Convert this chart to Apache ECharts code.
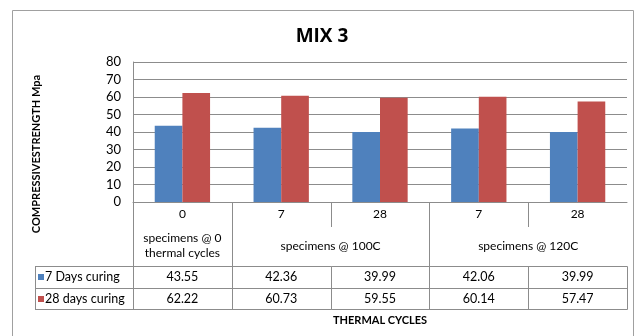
<!DOCTYPE html>
<html>
<head>
<meta charset="utf-8">
<script src="https://cdn.jsdelivr.net/npm/echarts@6/dist/echarts.min.js"></script>
<style>
html,body{margin:0;padding:0;background:#fff;}
#chart{width:644px;height:336px;}
</style>
</head>
<body>
<div id="chart"></div>
<script>
var titleText = 'MIX 3';
var yAxisTitle = 'COMPRESSIVESTRENGTH Mpa';
var xAxisTitle = 'THERMAL CYCLES';
var categories = ['0', '7', '28', '7', '28'];
var groupLabels = ['specimens @ 0\nthermal cycles', 'specimens @ 100C', 'specimens @ 120C'];
var groupSpans = [1, 2, 2];
var seriesNames = ['7 Days curing', '28 days curing'];
var days7 = [43.55, 42.36, 39.99, 42.06, 39.99];
var days28 = [62.22, 60.73, 59.55, 60.14, 57.47];
var yTicks = [0, 10, 20, 30, 40, 50, 60, 70, 80];

var colors = ['#4F81BD', '#C0504D'];
var lineColor = '#8c8c8c';
var font = 'Lato, "Open Sans", sans-serif';

var chart = echarts.init(document.getElementById('chart'), null, {renderer: 'canvas'});
var option = {
  animation: false,
  backgroundColor: '#fff',
  title: {
    text: titleText, left: 'center', top: 22,
    textStyle: {fontFamily: '"Open Sans", sans-serif', fontSize: 19, fontWeight: 700, color: '#000'}
  },
  grid: {left: 133, right: 17, top: 62, bottom: 134, containLabel: false},
  xAxis: {
    type: 'category', data: categories,
    axisLine: {show: true, lineStyle: {color: lineColor, width: 1}},
    axisTick: {show: false},
    axisLabel: {fontFamily: font, fontSize: 12, color: '#000', margin: 6}
  },
  yAxis: {
    type: 'value', min: yTicks[0], max: yTicks[yTicks.length - 1], interval: 10,
    axisLine: {show: true, lineStyle: {color: lineColor, width: 1}},
    axisTick: {show: false},
    axisLabel: {fontFamily: font, fontSize: 13, color: '#000', margin: 12},
    splitLine: {show: true, lineStyle: {color: lineColor, width: 1}}
  },
  series: [
    {name: seriesNames[0], type: 'bar', data: days7, barGap: '0%', barCategoryGap: '44%',
     itemStyle: {color: colors[0]}},
    {name: seriesNames[1], type: 'bar', data: days28, barGap: '0%', barCategoryGap: '44%',
     itemStyle: {color: colors[1]}}
  ]
};
chart.setOption(option);

function buildGraphic() {
  var c0 = chart.convertToPixel({xAxisIndex: 0}, 0);
  var c1 = chart.convertToPixel({xAxisIndex: 0}, 1);
  var w = c1 - c0;
  var x0 = c0 - w / 2;
  var n = categories.length;
  var xEnd = x0 + w * n;
  var yTop = chart.convertToPixel({yAxisIndex: 0}, 0);
  var headerBottom = yTop + 64;
  var rowH = 21.5;
  var legendLeft = 35;
  var els = [];
  var ls = {stroke: lineColor, lineWidth: 1};
  function line(x1, y1, x2, y2) {
    els.push({type: 'line', shape: {x1: x1, y1: y1, x2: x2, y2: y2}, style: ls, silent: true});
  }
  function text(str, x, y, opts) {
    opts = opts || {};
    els.push({type: 'text', x: x, y: y, silent: true,
      style: {text: str, fill: '#000', font: (opts.weight || 'normal') + ' ' + (opts.size || 12) + 'px ' + font,
        textAlign: opts.align || 'center', textVerticalAlign: 'middle', lineHeight: opts.lh || 15}});
  }
  // outer border
  els.push({type: 'rect', shape: {x: 12.5, y: 10.5, width: 621, height: 340},
    style: {fill: null, stroke: '#a0a0a0', lineWidth: 1}, silent: true});
  var idx = 0;
  var r = function (v) { return Math.round(v) + 0.5; };
  line(r(x0), yTop, r(x0), headerBottom);
  for (var g = 0; g < groupSpans.length; g++) {
    var gStart = x0 + idx * w;
    var gEnd = x0 + (idx + groupSpans[g]) * w;
    for (var k = 1; k < groupSpans[g]; k++) {
      var xi = r(gStart + k * w);
      line(xi, yTop, xi, yTop + 25);
    }
    if (g < groupSpans.length - 1) line(r(gEnd), yTop, r(gEnd), headerBottom);
    text(groupLabels[g], (gStart + gEnd) / 2, yTop + 44, {});
    idx += groupSpans[g];
  }
  var rows = [days7, days28];
  for (var ri = 0; ri <= rows.length; ri++) {
    var yy = r(headerBottom + ri * rowH);
    line(legendLeft, yy, r(xEnd), yy);
  }
  var yBottom = r(headerBottom + rows.length * rowH);
  line(legendLeft + 0.5, r(headerBottom), legendLeft + 0.5, yBottom);
  for (var i = 0; i <= n; i++) {
    var xv = r(x0 + i * w);
    line(xv, r(headerBottom), xv, yBottom);
  }
  for (ri = 0; ri < rows.length; ri++) {
    var cy = headerBottom + ri * rowH + rowH / 2 + 0.5;
    els.push({type: 'rect', shape: {x: 38, y: Math.round(cy) - 3, width: 6, height: 6},
      style: {fill: colors[ri]}, silent: true});
    text(seriesNames[ri], 45, cy, {align: 'left', size: 12.5});
    for (i = 0; i < n; i++) {
      text(rows[ri][i].toFixed(2), x0 + (i + 0.5) * w, cy, {size: 12.5});
    }
  }
  text(xAxisTitle, (x0 + xEnd) / 2, 320, {weight: 'bold', size: 11});
  els.push({type: 'text', x: 36, y: 154, rotation: Math.PI / 2, silent: true,
    style: {text: yAxisTitle, fill: '#000', font: 'bold 11px ' + font,
      textAlign: 'center', textVerticalAlign: 'middle'}});
  return els;
}
chart.setOption({graphic: {elements: buildGraphic()}});
</script>
</body>
</html>
